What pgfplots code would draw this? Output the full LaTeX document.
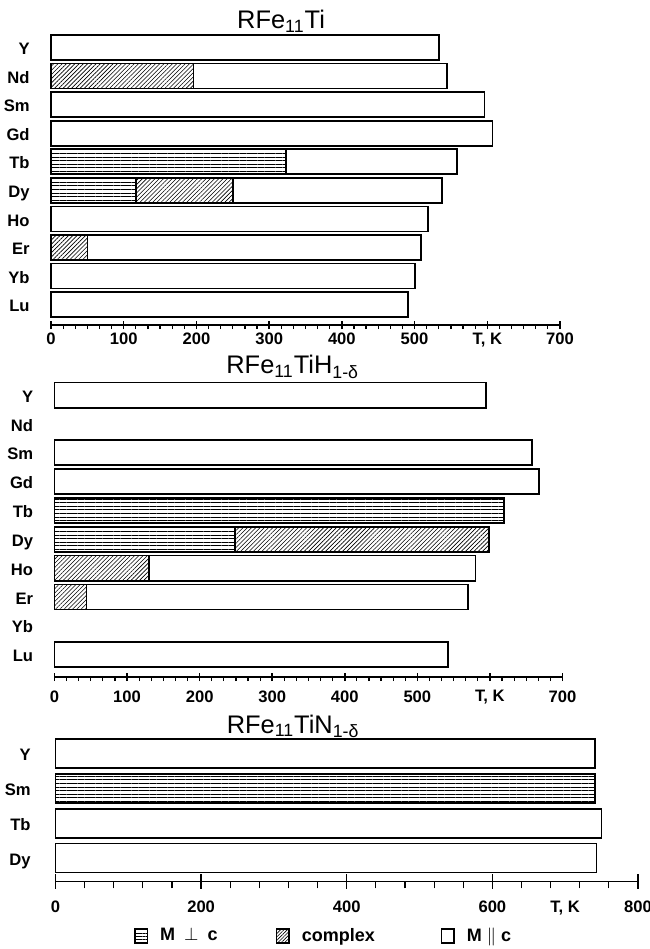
\documentclass[border=0pt]{standalone}
\usepackage{pgfplots}
\pgfplotsset{compat=1.18}
\usepackage{fontspec}
\setmainfont{Liberation Sans}
\usetikzlibrary{patterns.meta}

\pgfplotsset{
  rfepanel/.style={
    scale only axis, anchor=south west, clip=false,
    axis x line*=bottom, axis y line*=left,
    y axis line style={draw=none},
    x axis line style={line width=0.75pt},
    ytick style={draw=none},
    enlargelimits=false, xmin=0,
    tick align=center,
    major tick style={line width=0.75pt, black},
    minor tick style={line width=0.6pt, black},
    tick label style={font=\bfseries\fontsize{8.3}{9.6}\selectfont},
    /pgf/number format/assume math mode=true,
    yticklabel style={anchor=east, inner sep=0pt, xshift=-8.5pt,
      text height=1.55ex, text depth=0.2ex},
    every axis title shift=0pt,
    title style={font=\fontsize{12.7}{14}\selectfont, anchor=base, inner sep=0pt},
  },
  par/.style={xbar, bar shift=0pt, draw=black, line width=0.85pt, fill=white},
  cpx/.style={par, postaction={pattern={Lines[angle=45,distance=1.5pt,line width=0.3pt]}}},
  prp/.style={par, postaction={pattern={Lines[angle=0,distance=1.8pt,line width=0.35pt]}}},
}

\begin{document}
\begin{tikzpicture}
\path[use as bounding box] (0pt,0pt) rectangle (324.5pt,-474.5pt);

% RFe11Ti
\begin{axis}[rfepanel, at={(25.5pt,-162.5pt)}, width=254.5pt, height=147.35pt,
    xmax=700, ymin=-0.71, ymax=9.6, bar width=0.875,
    xtick={0,100,...,700}, minor x tick num=5,
    major tick length=4pt, minor tick length=2pt,
    minor tick style={yshift=-1pt},
    xticklabel style={anchor=north, inner sep=0pt, yshift=-2pt},
    xticklabels={0,100,200,300,400,500,{T, K},700},
    ytick={0,...,9}, yticklabels={Lu,Yb,Er,Ho,Dy,Tb,Gd,Sm,Nd,Y},
    title={RFe\textsubscript{11}Ti},
    title style={at={(0.452,1)}, yshift=0.7pt}]
  \addplot[par] coordinates {(534,9) (545,8) (596,7) (607,6) (558,5)
                             (538,4) (518,3) (509,2) (501,1) (491,0)};
  \addplot[cpx] coordinates {(196,8) (250,4) (50,2)};
  \addplot[prp] coordinates {(323,5) (117,4)};
\end{axis}

% RFe11TiH
\begin{axis}[rfepanel, at={(27.25pt,-338.5pt)}, width=254pt, height=149.6pt,
    xmax=700, ymin=-0.775, ymax=9.6, bar width=0.87,
    xtick={0,100,...,700}, minor x tick num=5,
    major tick length=4pt, minor tick length=2pt,
    minor tick style={yshift=-1pt},
    xticklabel style={anchor=north, inner sep=0pt, yshift=-4.5pt},
    xticklabels={0,100,200,300,400,500,{T, K},700},
    ytick={0,...,9}, yticklabels={Lu,Yb,Er,Ho,Dy,Tb,Gd,Sm,Nd,Y},
    title={RFe\textsubscript{11}TiH\textsubscript{1-δ}},
    title style={at={(0.469,1)}, yshift=2pt}]
  \addplot[par] coordinates {(595,9) (658,7) (668,6) (619,5) (599,4)
                             (580,3) (570,2) (542,0)};
  \addplot[cpx] coordinates {(599,4) (130,3) (44,2)};
  \addplot[prp] coordinates {(619,5) (249,4)};
\end{axis}

% RFe11TiN
\begin{axis}[rfepanel, at={(27.75pt,-440.65pt)}, width=291.25pt, height=73.3pt,
    xmax=800, ymin=-0.67, ymax=3.55, bar width=0.835,
    xtick={0,200,...,800}, minor x tick num=4,
    major tick length=7.5pt, minor tick length=3.5pt,
    minor tick style={yshift=-1.75pt},
    xticklabel style={anchor=north, inner sep=0pt, yshift=-5.75pt},
    xticklabels={0,200,400,600,800},
    extra x ticks={700}, extra x tick labels={T{,} K},
    extra x tick style={major tick style={draw=none}},
    ytick={0,...,3}, yticklabels={Dy,Tb,Sm,Y},
    title={RFe\textsubscript{11}TiN\textsubscript{1-δ}},
    title style={at={(0.408,1)}, yshift=0.85pt},
    legend columns=3,
    legend image code/.code={\draw[#1, line width=0.8pt] (0pt,-3.6pt) rectangle (6.3pt,3.6pt);},
    legend style={at={(0.134,-0.373)}, anchor=west, draw=none, inner sep=0pt,
      font=\bfseries\fontsize{9}{10.5}\selectfont,
      nodes={inner sep=0pt},
      /tikz/every odd column/.append style={column sep=6pt},
      /tikz/column 2/.append style={column sep=29pt},
      /tikz/column 4/.append style={column sep=33pt}}]
  \addlegendimage{fill=white, postaction={pattern={Lines[angle=0,distance=1.6pt,line width=0.35pt]}}}
  \addlegendentry{M\hspace{2pt} $\perp$\hspace{2pt} c}
  \addlegendimage{fill=white, postaction={pattern={Lines[angle=45,distance=1.2pt,line width=0.3pt]}}}
  \addlegendentry{complex}
  \addlegendimage{fill=white}
  \addlegendentry{M $\|$ c}
  \addplot[par] coordinates {(741,3) (750,1) (743,0)};
  \addplot[prp] coordinates {(741,2)};
\end{axis}
\end{tikzpicture}
\end{document}
